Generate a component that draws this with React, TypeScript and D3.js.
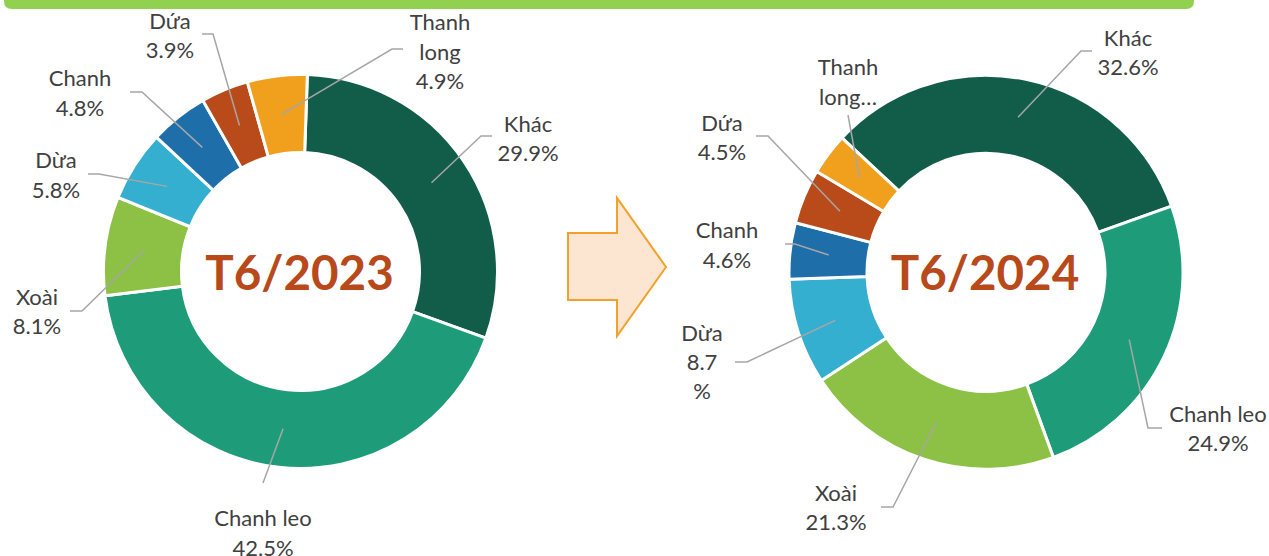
import * as d3 from "d3";

// categories in clockwise order, starting with "Khác"
const categories = ["Khác", "Chanh leo", "Xoài", "Dừa", "Chanh", "Dứa", "Thanh long"];
const values2023 = [29.9, 42.5, 8.1, 5.8, 4.8, 3.9, 4.9];
const values2024 = [32.6, 24.9, 21.3, 8.7, 4.6, 4.5, 3.4];
const titles = ["T6/2023", "T6/2024"];

const colors = ["#125D4A", "#1E9C7A", "#8CC145", "#35AFCF", "#1E6EAA", "#B84B19", "#F1A01D"];

type Lbl = {
  x: number; y: number;       // label block centre
  ax: number; ay: number;     // where the leader touches the label
  elbow: number;              // horizontal kink length (0 = straight)
  lines?: (name: string, pct: string) => string[];
};

// label layout (Excel "best fit" placement)
const layout2023: Lbl[] = [
  { x: 528, y: 138.5, ax: 492, ay: 136, elbow: -11 },
  { x: 263, y: 533, ax: 263, ay: 483, elbow: 0 },
  { x: 37, y: 311.5, ax: 70, ay: 311, elbow: 12 },
  { x: 56, y: 175, ax: 88, ay: 174, elbow: 11 },
  { x: 80, y: 93, ax: 130, ay: 92, elbow: 12 },
  { x: 170, y: 35.5, ax: 202, ay: 34, elbow: 11 },
  { x: 440, y: 51.5, ax: 403, ay: 49, elbow: -11, lines: (n, p) => [...n.split(" "), p] },
];
const layout2024: Lbl[] = [
  { x: 1128, y: 52.5, ax: 1092, ay: 51, elbow: -11 },
  { x: 1218, y: 428.5, ax: 1162, ay: 428, elbow: -14 },
  { x: 836, y: 507.5, ax: 881, ay: 507, elbow: 12 },
  { x: 702, y: 362, ax: 735, ay: 362, elbow: 12, lines: (n, p) => [n, p.replace("%", ""), "%"] },
  { x: 727, y: 245, ax: 785, ay: 244, elbow: 10 },
  { x: 722, y: 137.5, ax: 756, ay: 136, elbow: 12 },
  { x: 848, y: 82, ax: 848, ay: 115, elbow: 0, lines: (n) => [n.split(" ")[0], n.split(" ")[1] + "…"] },
];

const W = 1269;
const H = 556;
const R_OUT = 197;
const R_IN = 119;
const LINE_H = 29.3;
const FONT = "Lato, 'Open Sans', sans-serif";

const deg = (d: number) => (d * Math.PI) / 180;

function Donut({ values, title, cx, cy, start, layout }: {
  values: number[]; title: string; cx: number; cy: number; start: number; layout: Lbl[];
}) {
  const pie = d3.pie<number>().sort(null).value(d => d)
    .startAngle(deg(start)).endAngle(deg(start) + 2 * Math.PI);
  const arcs = pie(values);
  const arc = d3.arc<d3.PieArcDatum<number>>().innerRadius(R_IN).outerRadius(R_OUT);
  const mid = d3.arc<d3.PieArcDatum<number>>().innerRadius(121).outerRadius(195.5);

  return (
    <g>
      <g transform={`translate(${cx},${cy})`}>
        {arcs.map((a, i) => (
          <path key={i} d={arc(a) || ""} fill={colors[i]} stroke="#fff" strokeWidth={3} strokeLinejoin="miter" />
        ))}
      </g>
      {arcs.map((a, i) => {
        const L = layout[i];
        const [mx, my] = mid.centroid(a);
        const pts: [number, number][] = [[cx + mx, cy + my]];
        if (L.elbow !== 0) pts.push([L.ax + L.elbow, L.ay]);
        pts.push([L.ax, L.ay]);
        return (
          <path key={"l" + i} d={d3.line()(pts) || ""} fill="none" stroke="#A6A6A6" strokeWidth={1.5} />
        );
      })}
      {arcs.map((a, i) => {
        const L = layout[i];
        const pct = values[i].toFixed(1) + "%";
        const lines = L.lines ? L.lines(categories[i], pct) : [categories[i], pct];
        return (
          <text key={"t" + i} textAnchor="middle" fontFamily={FONT} fontSize={22} fill="#404040">
            {lines.map((s, j) => (
              <tspan key={j} x={L.x} y={L.y + (j - (lines.length - 1) / 2) * LINE_H + 8}>{s}</tspan>
            ))}
          </text>
        );
      })}
      <text x={cx - 1} y={cy + 18} textAnchor="middle" fontFamily={FONT} fontWeight={700}
        fontSize={47.5} fill="#B8491A">{title}</text>
    </g>
  );
}

export default function App() {
  // block arrow between the two donuts
  const arrow: [number, number][] = [
    [568, 233], [617, 233], [617, 198], [666, 267], [617, 336], [617, 300], [568, 300],
  ];
  return (
    <svg width={W} height={H} style={{ position: "absolute", left: 0, top: 0, background: "#fff" }}>
      <path d="M4,0 H1194 V1 Q1194,9 1186,9 H12 Q4,9 4,1 Z" fill="#92D050" />
      <polygon points={arrow.map(p => p.join(",")).join(" ")} fill="#FCE6D2" stroke="#F2A12A" strokeWidth={2} />
      <Donut values={values2023} title={titles[0]} cx={300.5} cy={271.5} start={2} layout={layout2023} />
      <Donut values={values2024} title={titles[1]} cx={986} cy={272.3} start={-47} layout={layout2024} />
    </svg>
  );
}
